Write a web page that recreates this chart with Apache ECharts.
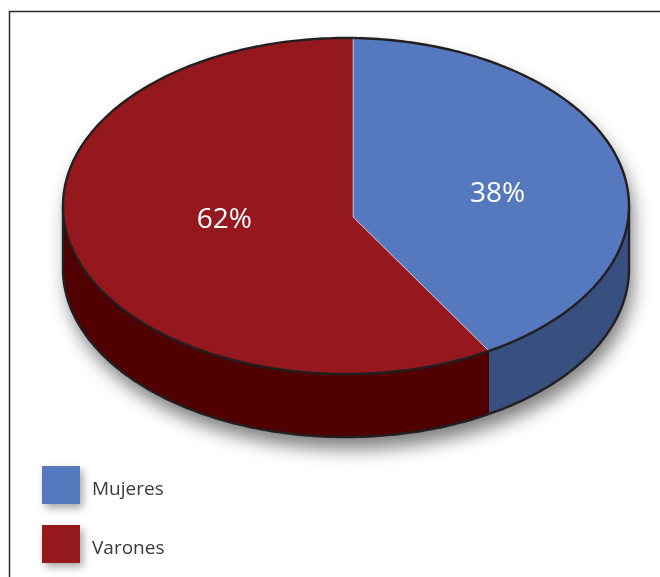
<!DOCTYPE html>
<html>
<head>
<meta charset="utf-8">
<script src="https://cdn.jsdelivr.net/npm/echarts@6/dist/echarts.min.js"></script>
<style>
html,body{margin:0;padding:0;background:#fff;}
#c{width:660px;height:577px;}
</style>
</head>
<body>
<div id="c"></div>
<script>
// ---- data ----
const categories = ['Mujeres', 'Varones'];
const values = [38, 62];
const topColors = ['#5678BE', '#95181E'];
const sideColors = ['#37507F', '#500000'];

// ---- layout / projection settings ----
const CX = 346, CY = 206, RX = 283, RY = 168, DEPTH = 63;
const HUBX = 353, HUBY = 217;           // projected pie centre
const PHI0 = Math.asin((HUBX - CX) / RX) * 180 / Math.PI;
const K = 16.7;                          // perspective foreshortening of angles (deg)
const LCX = 361, LCY = 207, LX = 147, LY = 35; // label ring
const OUTLINE = '#231F20';

const total = values.reduce((a, b) => a + b, 0);
const rad = d => d * Math.PI / 180;
const warp = t => t + PHI0 + K * Math.sin(rad(t));
const rim = (phi, dy) => [CX + RX * Math.sin(rad(phi)), CY - RY * Math.cos(rad(phi)) + (dy || 0)];
function arc(a, b, dy) {
  const pts = [];
  const n = Math.max(2, Math.ceil(Math.abs(b - a) / 1));
  for (let i = 0; i <= n; i++) pts.push(rim(a + (b - a) * i / n, dy));
  return pts;
}

function makeRender(idx) {
  return function (params, api) {
    let before = 0;
    for (let i = 0; i < idx; i++) before += values[i];
    const v = api.value(0);
    const t0 = before / total * 360, t1 = (before + v) / total * 360;
    const p0 = warp(t0), p1 = warp(t1);
    const children = [];
    if (idx === 0) {
      // soft shadow of the whole disc
      const sil = arc(-90, 90, 0).concat(arc(90, 270, DEPTH));
      children.push({type: 'polygon', shape: {points: sil},
        style: {fill: '#ffffff', shadowBlur: 18, shadowOffsetX: 4, shadowOffsetY: 12, shadowColor: 'rgba(0,0,0,0.5)'}});
    }
    // side wall (visible front part 90..270)
    const a = Math.max(p0, 90), b = Math.min(p1, 270);
    if (a < b) {
      const side = arc(a, b, 0).concat(arc(b, a, DEPTH));
      children.push({type: 'polygon', shape: {points: side}, style: {fill: sideColors[idx]}});
      children.push({type: 'polyline', shape: {points: arc(a, b, DEPTH)}, style: {stroke: OUTLINE, lineWidth: 2.4, fill: null}});
      if (a === 90) children.push({type: 'polyline', shape: {points: [rim(90, 0), rim(90, DEPTH)]}, style: {stroke: OUTLINE, lineWidth: 2.4, fill: null}});
      if (b === 270) children.push({type: 'polyline', shape: {points: [rim(270, 0), rim(270, DEPTH)]}, style: {stroke: OUTLINE, lineWidth: 2.4, fill: null}});
    }
    // top face
    const top = [[HUBX, HUBY]].concat(arc(p0, p1, 0));
    children.push({type: 'polygon', shape: {points: top}, style: {fill: topColors[idx]}});
    children.push({type: 'polyline', shape: {points: [rim(p0, 0), [HUBX, HUBY], rim(p1, 0)]},
      style: {stroke: 'rgba(255,255,255,0.45)', lineWidth: 1, fill: null}});
    children.push({type: 'polyline', shape: {points: arc(p0, p1, 0)}, style: {stroke: OUTLINE, lineWidth: 2.4, fill: null}});
    // label
    const mid = (t0 + t1) / 2;
    children.push({type: 'text', style: {
      text: Math.round(v / total * 100) + '%',
      x: LCX + LX * Math.sin(rad(mid)), y: LCY - LY * Math.cos(rad(mid)),
      fill: '#ffffff', font: '28px "Open Sans"', align: 'center', verticalAlign: 'middle'}});
    return {type: 'group', children: children};
  };
}

const chart = echarts.init(document.getElementById('c'), null, {renderer: 'canvas'});
chart.setOption({
  animation: false,
  backgroundColor: '#ffffff',
  graphic: [{type: 'polyline', shape: {points: [[9.5, 577], [9.5, 11.5], [660, 11.5]]},
    style: {stroke: '#2b2b2b', lineWidth: 1.5, fill: null}, z: 10}],
  legend: {
    orient: 'vertical', left: 42, top: 466, padding: 0,
    itemWidth: 38, itemHeight: 38, itemGap: 21, icon: 'rect',
    data: categories,
    formatter: '{t|{name}}',
    itemStyle: {shadowBlur: 8, shadowColor: 'rgba(0,0,0,0.35)', shadowOffsetX: 3, shadowOffsetY: 4},
    textStyle: {fontSize: 19, color: '#3a3a3a', fontFamily: 'Open Sans',
      rich: {t: {fontSize: 19, color: '#3a3a3a', fontFamily: 'Open Sans', padding: [9, 0, 0, 7]}}}
  },
  series: categories.map((name, i) => ({
    type: 'custom', name: name, coordinateSystem: 'none',
    itemStyle: {color: topColors[i]},
    renderItem: makeRender(i),
    data: [[values[i]]]
  }))
});
</script>
</body>
</html>
